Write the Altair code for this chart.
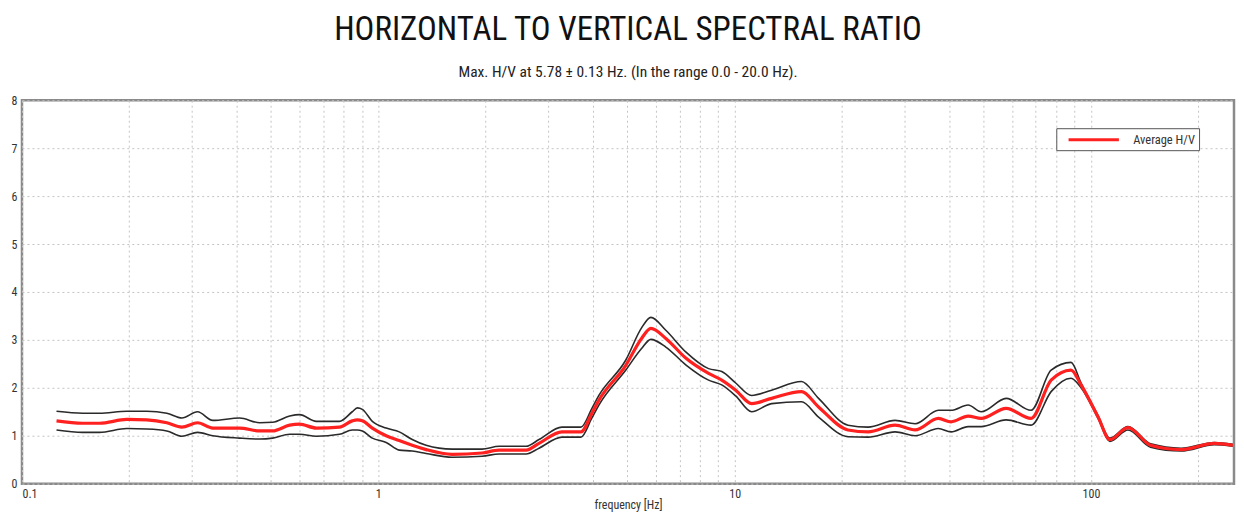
import altair as alt
import pandas as pd

# frequency [Hz]
freq = [0.125, 0.148, 0.165, 0.197, 0.224, 0.255, 0.281, 0.311, 0.343, 0.408,
        0.465, 0.505, 0.564, 0.601, 0.670, 0.778, 0.845, 0.873, 0.902, 0.962,
        1.052, 1.145, 1.245, 1.362, 1.611, 1.955, 2.182, 2.599, 2.825, 3.275,
        3.704, 3.97, 4.159, 4.95, 5.48, 5.82, 6.41, 7.29, 8.45, 9.20,
        10.07, 11.16, 12.7, 15.4, 17.2, 20.8, 23.7, 28.2, 32.1, 37.3,
        40.5, 45.2, 49.2, 57.8, 67.9, 77.3, 87.9, 93.8, 104.7, 113,
        127, 147, 179, 222, 250]
avg = [1.31, 1.26, 1.26, 1.34, 1.33, 1.27, 1.18, 1.27, 1.16, 1.16,
       1.10, 1.10, 1.22, 1.24, 1.16, 1.18, 1.31, 1.33, 1.31, 1.16,
       1.00, 0.90, 0.80, 0.71, 0.61, 0.64, 0.70, 0.70, 0.84, 1.08,
       1.08, 1.46, 1.74, 2.47, 3.03, 3.24, 3.03, 2.62, 2.30, 2.16,
       1.95, 1.67, 1.78, 1.92, 1.60, 1.12, 1.08, 1.22, 1.12, 1.36,
       1.29, 1.41, 1.36, 1.57, 1.36, 2.16, 2.37, 2.06, 1.39, 0.92,
       1.17, 0.80, 0.71, 0.84, 0.80]
upper = [1.51, 1.47, 1.47, 1.51, 1.51, 1.47, 1.37, 1.50, 1.32, 1.37,
         1.27, 1.28, 1.41, 1.44, 1.30, 1.30, 1.50, 1.58, 1.55, 1.30,
         1.16, 1.08, 0.92, 0.80, 0.72, 0.72, 0.78, 0.78, 0.92, 1.18,
         1.18, 1.56, 1.84, 2.58, 3.25, 3.47, 3.20, 2.75, 2.40, 2.34,
         2.10, 1.84, 1.95, 2.13, 1.78, 1.22, 1.18, 1.32, 1.25, 1.53,
         1.53, 1.64, 1.50, 1.78, 1.53, 2.37, 2.53, 2.10, 1.42, 0.95,
         1.19, 0.83, 0.74, 0.86, 0.82]
lower = [1.12, 1.07, 1.07, 1.15, 1.14, 1.10, 0.99, 1.07, 1.00, 0.95,
         0.93, 0.95, 1.03, 1.03, 0.99, 1.03, 1.12, 1.12, 1.10, 0.95,
         0.86, 0.70, 0.68, 0.63, 0.55, 0.57, 0.62, 0.62, 0.74, 0.97,
         0.97, 1.36, 1.64, 2.37, 2.82, 3.01, 2.85, 2.48, 2.16, 2.06,
         1.83, 1.50, 1.67, 1.71, 1.39, 0.98, 0.97, 1.08, 1.00, 1.15,
         1.08, 1.19, 1.19, 1.33, 1.22, 1.92, 2.20, 2.00, 1.36, 0.88,
         1.12, 0.76, 0.68, 0.81, 0.78]

x_grid_values = [0.1, 0.2, 0.3, 0.4, 0.5, 0.6, 0.7, 0.8, 0.9,
                 1, 2, 3, 4, 5, 6, 7, 8, 9,
                 10, 20, 30, 40, 50, 60, 70, 80, 90,
                 100, 200]
x_labels = [0.1, 1, 10, 100]
y_values = [0, 1, 2, 3, 4, 5, 6, 7, 8]

series_avg = "Average H/V"

df_avg = pd.DataFrame({"f": freq, "v": avg, "series": series_avg})
df_bounds = pd.concat([
    pd.DataFrame({"f": freq, "v": upper, "series": "upper"}),
    pd.DataFrame({"f": freq, "v": lower, "series": "lower"}),
])

FONT = "Liberation Sans Narrow, Roboto Condensed, Arial Narrow, Liberation Sans, sans-serif"

label_expr = " || ".join(f"datum.value == {v}" for v in x_labels)
label_expr = f"({label_expr}) ? datum.label : ''"

x_enc = alt.X(
    "f:Q",
    scale=alt.Scale(type="log", domain=[0.1, 252], nice=False),
    axis=alt.Axis(values=x_grid_values, labelExpr=label_expr, format="~g",
                  title="frequency [Hz]", ticks=False, domain=False,
                  labelPadding=5, titlePadding=0, labelFlush=True),
)
y_enc = alt.Y(
    "v:Q",
    scale=alt.Scale(domain=[0, 8], nice=False),
    axis=alt.Axis(values=y_values, title=None, ticks=False, domain=False,
                  labelPadding=5),
)

bounds = alt.Chart(df_bounds).mark_line(
    color="#2a2a2a", strokeWidth=1.6, interpolate="monotone"
).encode(x=x_enc, y=y_enc, detail="series:N")

red = alt.Chart(df_avg).mark_line(strokeWidth=3.2, interpolate="monotone").encode(
    x=x_enc, y=y_enc,
    color=alt.Color("series:N",
                    scale=alt.Scale(domain=[series_avg], range=["#ff2020"]),
                    legend=alt.Legend(title=None, orient="none", legendX=1036, legendY=28,
                                      symbolType="M-4.2,0H4.2", symbolStrokeWidth=3,
                                      symbolSize=144, symbolOffset=26,
                                      strokeColor="#555",
                                      fillColor="white", padding=4,
                                      labelFont=FONT, labelFontSize=12.5,
                                      labelColor="#333", labelOffset=32)),
)

chart = alt.layer(bounds, red).properties(
    width=1214, height=384,
    title=alt.TitleParams(
        "HORIZONTAL TO VERTICAL SPECTRAL RATIO",
        subtitle="Max. H/V at 5.78 ± 0.13 Hz. (In the range 0.0 - 20.0 Hz).",
        font=FONT, fontSize=33, fontWeight="normal", color="#111",
        subtitleFont=FONT, subtitleFontSize=15.5, subtitleColor="#222",
        subtitlePadding=18, offset=14, anchor="middle",
    ),
    autosize=alt.AutoSizeParams(type="none"),
    padding={"left": 14, "top": 92, "right": 2, "bottom": 30},
).configure_view(
    stroke="#8a8a8a", strokeWidth=2.5
).configure_axis(
    gridColor="#c4c4c4", gridDash=[2, 3], gridWidth=1,
    labelFont=FONT, labelFontSize=12, labelColor="#333",
    titleFont=FONT, titleFontSize=12, titleColor="#333", titleFontWeight="normal",
)

chart.save("out.html", embed_options={"renderer": "svg", "actions": False})
